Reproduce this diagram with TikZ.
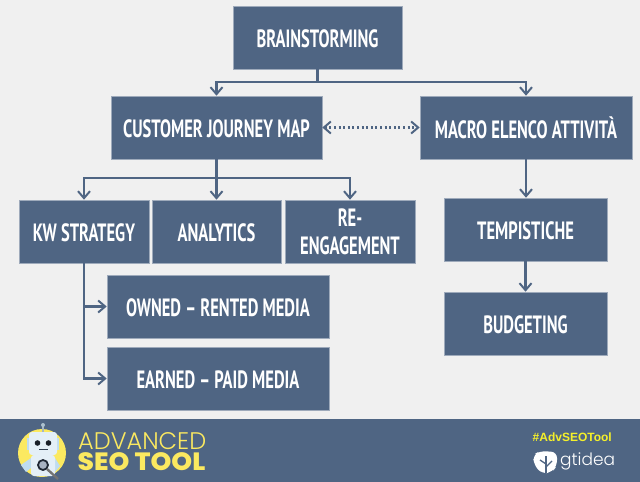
\documentclass[tikz,border=0pt]{standalone}
\usepackage{fontspec}
\usepackage{tikz}
\usetikzlibrary{arrows.meta}
\newfontfamily\boxfont[FakeStretch=0.66]{PT Sans}
\newfontfamily\logofont[UprightFont=* Light]{Poppins}
\newfontfamily\toolfont[UprightFont=* ExtraBold,FakeStretch=1.06]{Poppins}
\newfontfamily\tagfont{Liberation Sans}
\definecolor{slate}{HTML}{4F6583}
\definecolor{paper}{HTML}{F0F0F0}
\definecolor{robotyellow}{HTML}{FBE960}
\definecolor{robotblue}{HTML}{BFDCF0}
\definecolor{robotface}{HTML}{E4EFF7}
\definecolor{tagyellow}{HTML}{F5F02A}
\begin{document}
\begin{tikzpicture}[x=1pt,y=-1pt]
            \tikzset{
                block/.style={rectangle,draw=slate!55!white,line width=0.6pt,fill=slate,text=white,font=\boxfont\bfseries\fontsize{25}{28}\selectfont,align=center,inner sep=0pt,minimum height=63pt,execute at begin node={\rule{0pt}{20.5pt}}},
                edge/.style={-{Straight Barb[length=7pt,width=12pt,line width=2pt]},draw=slate,line width=2.3pt},
                trunk/.style={draw=slate,line width=2.3pt},
                link/.style={{Straight Barb[length=7pt,width=12pt,line width=2pt]}-{Straight Barb[length=7pt,width=12pt,line width=2pt]},draw=slate,line width=2.2pt,dash pattern=on 2pt off 2.6pt}
            }
            \useasboundingbox (0,0) rectangle (640,482);
            \fill[paper] (0,0) rectangle (640,482);

            % footer
            \fill[slate] (0,419) rectangle (640,482);

            % vertices
            \node[block,minimum width=169pt] (brain) at (317.5,37.5) {BRAINSTORMING};
            \node[block,minimum width=211pt] (map) at (216.5,127.5) {CUSTOMER JOURNEY MAP};
            \node[block,minimum width=212pt] (macro) at (526,127.5) {MACRO ELENCO ATTIVITÀ};
            \node[block,minimum width=130pt] (kw) at (84,231.5) {KW STRATEGY};
            \node[block,minimum width=129pt] (analytics) at (216.5,231.5) {ANALYTICS};
            \node[block,minimum width=130pt] (re) at (350,231.5) {RE-\\ENGAGEMENT};
            \node[block,minimum width=222pt] (owned) at (218,306.5) {OWNED – RENTED MEDIA};
            \node[block,minimum width=222pt] (earned) at (218,378.5) {EARNED – PAID MEDIA};
            \node[block,minimum width=163pt] (temp) at (525.5,229.5) {TEMPISTICHE};
            \node[block,minimum width=163pt] (budget) at (525.5,323.5) {BUDGETING};

            % bus corners
            \coordinate (topbus) at (brain.south |- 0,82);
            \coordinate (midbus) at (map.south |- 0,178);

            %edges
            \draw[trunk] (brain.south) -- (topbus);
            \draw[edge] (topbus) -| (map.north);
            \draw[edge] (topbus) -| (macro.north);
            \draw[trunk] (map.south) -- (midbus);
            \draw[edge] (midbus) -| (kw.north);
            \draw[edge] (midbus) -- (analytics.north);
            \draw[edge] (midbus) -| (re.north);
            \draw[link] (map.east) -- (macro.west);
            \draw[edge] (kw.south) |- (owned.west);
            \draw[edge] (kw.south) |- (earned.west);
            \draw[edge] (macro.south) -- (macro.south |- temp.north);
            \draw[edge] (temp.south) -- (budget.north);

            % robot
            \fill[robotyellow] (42,453) circle (24pt);
            \draw[draw=robotblue!60!gray,line width=1.2pt] (43,432) -- (43,426);
            \fill[robotblue!70!gray] (43,425) circle (2pt);
            \fill[robotblue] (27,438) rectangle (31,450);
            \fill[robotblue] (55,438) rectangle (59,450);
            \fill[robotface,rounded corners=3pt] (29,432) rectangle (57,455);
            \fill[slate!30!black] (37.5,443) circle (2.8pt);
            \fill[slate!30!black] (48.5,443) circle (2.8pt);
            \fill[slate!60!black] (38.5,449) rectangle (47.5,450);
            \fill[robotblue] (21,465) -- (31,458) -- (31,468) -- (26,472) -- cycle;
            \fill[robotblue] (55,458) -- (60,466) -- (55,472) -- cycle;
            \fill[robotface,rounded corners=3pt] (31,455) rectangle (55,476);
            \draw[slate!40!black,line width=1.8pt,fill=slate!50!white] (43,465) circle (5pt);
            \draw[black!55,line width=2.4pt] (47,469) -- (58,479);

            % logo
            \node[inner sep=0pt,anchor=west,text=robotyellow,font=\logofont\fontsize{24}{24}\selectfont] (advanced) at (78,441.5) {ADVANCED};
            \node[inner sep=0pt,anchor=west,text=robotyellow,font=\toolfont\fontsize{25}{25}\selectfont] (seotool) at (77.5,462) {SEO TOOL};
            \node[inner sep=0pt,anchor=east,text=tagyellow,font=\tagfont\bfseries\fontsize{12}{13}\selectfont] (tag) at (612,437.5) {\#AdvSEOTool};
            \fill[white,rounded corners=6pt] (533,455) -- (540,451) -- (557,452) -- (557,466) -- (552,472) -- (542,474) -- (534,465) -- cycle;
            \draw[slate,line width=1.3pt] (546,473) -- (546,456);
            \draw[slate,line width=1.3pt] (546,467) -- (552,461);
            \draw[slate,line width=1.3pt] (546,464) -- (540,460);
            \node[inner sep=0pt,anchor=west,text=white,font=\logofont\fontsize{17}{20}\selectfont] (gtidea) at (560,461) {gtidea};
\end{tikzpicture}
\end{document}
